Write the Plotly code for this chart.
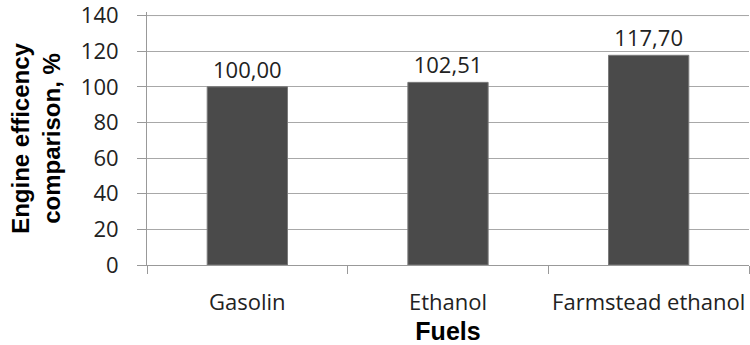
import plotly.graph_objects as go

categories = ["Gasolin", "Ethanol", "Farmstead ethanol"]
values = [100.00, 102.51, 117.70]
y_ticks = [0, 20, 40, 60, 80, 100, 120, 140]

labels = [f"{v:.2f}".replace(".", ",") for v in values]

fig = go.Figure()
fig.add_trace(go.Bar(
    x=categories, y=values, width=0.4,
    marker=dict(color="#4a4a4a", line=dict(color="#7a7a7a", width=1)),
    text=labels, textposition="outside", cliponaxis=False,
    textfont=dict(family="Open Sans", size=22, color="#222222"),
))

fig.update_layout(
    width=750, height=345,
    margin=dict(l=147, r=1, t=12, b=80),
    paper_bgcolor="white", plot_bgcolor="white",
    showlegend=False, bargap=0.6,
    font=dict(family="Open Sans", size=22, color="#222222"),
)
fig.update_xaxes(
    automargin=False, tickangle=0,
    tickson="boundaries", ticks="outside", ticklen=8, tickcolor="#999999",
    showline=True, linecolor="#999999", linewidth=1,
    ticklabelstandoff=18,
    tickfont=dict(family="Open Sans", size=22, color="#222222"),
    title=dict(text="Fuels", font=dict(family="Liberation Sans", size=25, color="black", weight="bold"),
               standoff=20),
)
fig.update_yaxes(
    automargin=False,
    range=[0, 142], tickmode="array", tickvals=y_ticks, ticktext=[str(t) for t in y_ticks],
    ticks="outside", ticklen=9, tickcolor="#999999",
    showline=True, linecolor="#999999", linewidth=1,
    showgrid=True, gridcolor="#a8a8a8", gridwidth=1,
    zeroline=False,
    ticklabelstandoff=14, ticklabeloverflow="allow",
    tickfont=dict(family="Open Sans", size=22, color="#222222"),
    title=dict(text="Engine efficency<br>comparison, %",
               font=dict(family="Liberation Sans", size=24, color="black", weight="bold"),
               standoff=13),
)
# top gridline (at the highest tick), which plotly omits near the plot edge
fig.add_hline(y=max(y_ticks), line_color="#a8a8a8", line_width=1, layer="below")

fig.write_html("out.html")
